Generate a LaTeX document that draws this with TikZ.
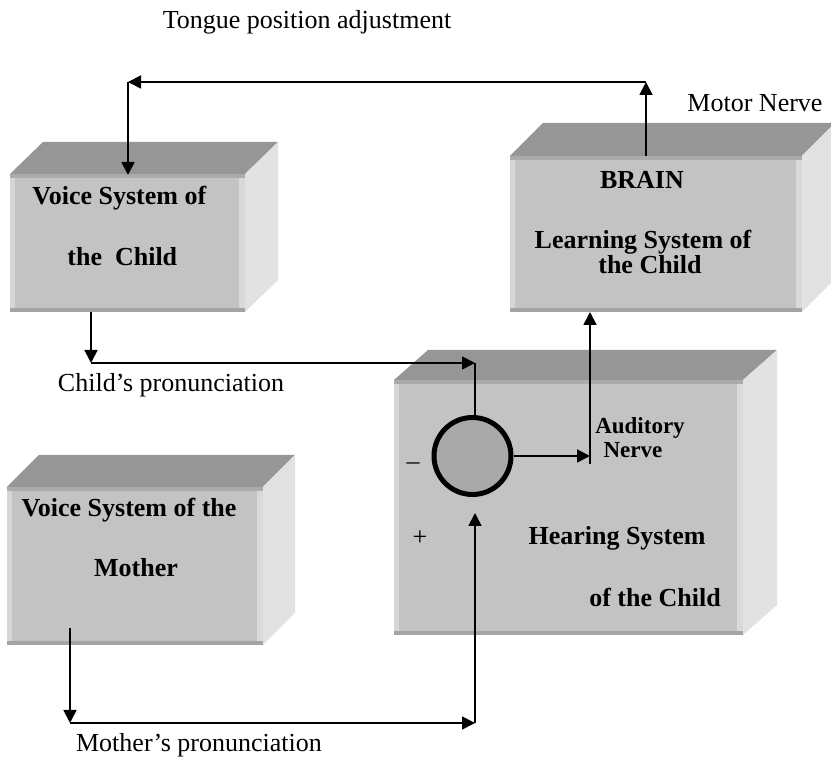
\documentclass[tikz,border=0pt]{standalone}
\usepackage{fontspec}
\setmainfont{Liberation Serif}
\usetikzlibrary{arrows.meta}
\definecolor{topc}{HTML}{969696}
\definecolor{sidec}{HTML}{E2E2E2}
\definecolor{frontc}{HTML}{C3C3C3}
\definecolor{topstrip}{HTML}{ABABAB}
\definecolor{leftstrip}{HTML}{D6D6D6}
\definecolor{botstrip}{HTML}{A4A4A4}
\definecolor{rightstrip}{HTML}{D9D9D9}
\definecolor{sumc}{HTML}{A9A9A9}
\tikzset{
  arr/.style={line width=0.9pt, -{Triangle[length=6.5pt,width=6.5pt]}},
  ln/.style={line width=0.9pt},
  lab/.style={font=\fontsize{13}{15}\selectfont, inner sep=0},
  blab/.style={font=\fontsize{13}{15}\selectfont\bfseries, inner sep=0},
  slab/.style={font=\fontsize{11.5}{13}\selectfont\bfseries, inner sep=0},
  sumnode/.style={circle, draw=black, line width=2.5pt, fill=sumc, minimum size=38.5pt, inner sep=0},
}
% name, x1, y1, x2, y2 (front face), depth dx, dy
\newcommand\mycube[7]{%
  \fill[topc] (#2,#3) -- (#2+#6,#3-#7) -- (#4+#6,#3-#7) -- (#4,#3) -- cycle;
  \fill[sidec] (#4,#3) -- (#4+#6,#3-#7) -- (#4+#6,#5-#7) -- (#4,#5) -- cycle;
  \fill[frontc] (#2,#3) rectangle (#4,#5);
  \fill[leftstrip] (#2,#3) rectangle (#2+5,#5);
  \fill[rightstrip] (#4-6,#3) rectangle (#4,#5);
  \fill[topstrip] (#2,#3) rectangle (#4,#3+4);
  \fill[botstrip] (#2,#5-4) rectangle (#4,#5);
  \coordinate (#1-nw) at (#2,#3);
  \coordinate (#1-se) at (#4,#5);
}
\begin{document}
\begin{tikzpicture}[x=0.5pt, y=-0.5pt]
\useasboundingbox (0,0) rectangle (831,758);

% boxes
\mycube{vchild}{10}{174}{245}{312}{33}{32}
\mycube{brain}{510}{156}{802}{312}{33}{33}
\mycube{hear}{394}{380}{743}{635}{34}{30}
\mycube{vmother}{7}{487}{263}{645}{32}{32}

% box texts
\node[blab, anchor=west] (t1) at (32,198) {Voice System of};
\node[blab, anchor=west] (t2) at (67,257) {the\ \ Child};
\node[blab] (t3) at (642,180) {BRAIN};
\node[blab] (t4) at (643,242) {Learning System of};
\node[blab] (t5) at (650,265) {the Child};
\node[slab] (t6) at (640,428) {Auditory};
\node[slab] (t7) at (633,450) {Nerve};
\node[blab] (t8) at (617,538) {Hearing System};
\node[blab] (t9) at (655,597) {of the Child};
\node[blab] (t10) at (129,510) {Voice System of the};
\node[blab] (t11) at (136,568) {Mother};
\node[lab] (minus) at (413,466) {\textendash};
\node[lab] (plus) at (420,538) {+};

% free labels
\node[lab] (tongue) at (307,22) {Tongue position adjustment};
\node[lab] (motor) at (755,103) {Motor Nerve};
\node[lab] (childp) at (171,385) {Child’s pronunciation};
\node[lab] (motherp) at (199,745) {Mother’s pronunciation};

% summing junction
\node[sumnode] (sum) at (472.5,456) {};

% connection points
\coordinate (brainTop) at (646,156);
\coordinate (motorUp) at (646,82);
\coordinate (tongueL) at (128,82);
\coordinate (vchildTop) at (128,175);
\coordinate (vchildBot) at (91,312);
\coordinate (childDown) at (91,363);
\coordinate (childR) at (475,363);
\coordinate (audR) at (590,456);
\coordinate (audBot) at (590,464);
\coordinate (brainBot) at (590,312);
\coordinate (vmotherIn) at (70,628);
\coordinate (motherDown) at (70,723);
\coordinate (motherR) at (475,723);
\coordinate (sumBelow) at (475,513);

% connectors
\draw[arr] (brainTop) -- (motorUp);
\draw[arr] (motorUp) -- (tongueL);
\draw[arr] (tongueL) -- (vchildTop);
\draw[arr] (vchildBot) -- (childDown);
\draw[arr] (childDown) -- (childR);
\draw[ln] (childR) -- (sum.north -| childR);
\draw[arr] (sum.east) -- (audR);
\draw[arr] (audBot) -- (brainBot);
\draw[arr] (vmotherIn) -- (motherDown);
\draw[arr] (motherDown) -- (motherR);
\draw[arr] (motherR) -- (sumBelow);
\end{tikzpicture}
\end{document}
